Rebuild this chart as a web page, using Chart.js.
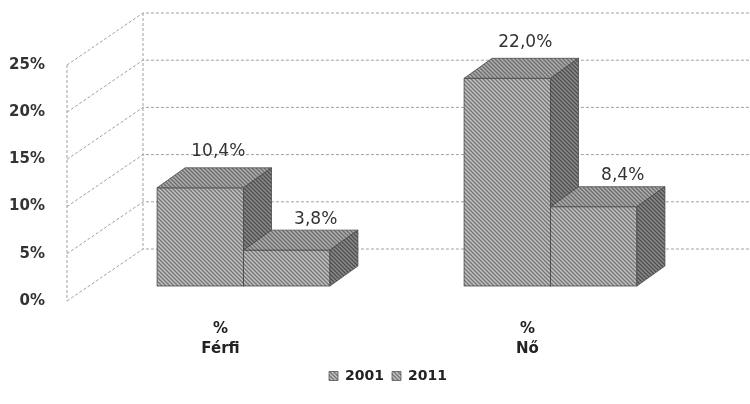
<!DOCTYPE html>
<html>
<head>
<meta charset="utf-8">
<script src="https://cdn.jsdelivr.net/npm/chart.js@4"></script>
<style>
  html, body { margin: 0; padding: 0; background: #fff; }
</style>
</head>
<body>
<canvas id="grafikon" width="750" height="404"></canvas>
<script>
// adatok
const kategoriak = [['%', 'Férfi'], ['%', 'Nő']];
const evek = ['2001', '2011'];
const ertekek2001 = [10.4, 22.0];
const ertekek2011 = [3.8, 8.4];
const yTicks = [0, 5, 10, 15, 20, 25];

// szürke, pöttyözött mintázat (mint a szkennelt képen)
function minta(alap, vilagos, sotet) {
    const c = document.createElement('canvas');
    c.width = 4; c.height = 4;
    const g = c.getContext('2d');
    g.fillStyle = alap; g.fillRect(0, 0, 4, 4);
    g.fillStyle = vilagos;
    for (let i = 0; i < 4; i++) g.fillRect(i, i, 1, 1);
    g.fillStyle = sotet;
    for (let i = 0; i < 4; i++) g.fillRect((i + 2) % 4, i, 1, 1);
    return g.createPattern(c, 'repeat');
}
const elolap = minta('#9d9d9d', '#c4c4c4', '#767676');
const tetolap = minta('#8f8f8f', '#b0b0b0', '#6c6c6c');
const oldallap = minta('#6e6e6e', '#8c8c8c', '#4e4e4e');

const DX = 28, DY = -20;      // 3D mélység
const SHIFT_X = 23, SHIFT_Y = -15;  // oszlopok a fal mögött

function hatsoY(chart, v) {
    const y = chart.scales.y;
    const bottom = chart.chartArea.bottom;
    return bottom - 52 - (bottom - y.getPixelForValue(v));
}

function oszlop(ctx, bar) {
    const x0 = bar.x - bar.width / 2, x1 = bar.x + bar.width / 2;
    const yT = bar.y, yB = bar.base;
    ctx.lineWidth = 0.8;
    ctx.strokeStyle = '#4a4a4a';
    // eleje
    ctx.fillStyle = elolap;
    ctx.fillRect(x0, yT, x1 - x0, yB - yT);
    ctx.strokeRect(x0, yT, x1 - x0, yB - yT);
    // teteje
    ctx.beginPath();
    ctx.moveTo(x0, yT); ctx.lineTo(x1, yT);
    ctx.lineTo(x1 + DX, yT + DY); ctx.lineTo(x0 + DX, yT + DY);
    ctx.closePath();
    ctx.fillStyle = tetolap; ctx.fill(); ctx.stroke();
    // oldala
    ctx.beginPath();
    ctx.moveTo(x1, yT); ctx.lineTo(x1 + DX, yT + DY);
    ctx.lineTo(x1 + DX, yB + DY); ctx.lineTo(x1, yB);
    ctx.closePath();
    ctx.fillStyle = oldallap; ctx.fill(); ctx.stroke();
}

// falak (oldalfal + hátsó fal rácsvonalai) és 3D oszlopok
const falak = {
    id: 'falak',
    beforeDatasetsDraw(chart) {
        const ctx = chart.ctx;
        const area = chart.chartArea;
        const y = chart.scales.y;
        const hatsoX = area.left + 76;
        ctx.save();
        ctx.strokeStyle = '#a0a0a0';
        ctx.lineWidth = 1;
        ctx.setLineDash([3, 2]);
        yTicks.forEach(v => {
            const yf = y.getPixelForValue(v);
            const yb = hatsoY(chart, v);
            ctx.beginPath();
            ctx.moveTo(area.left, yf);
            ctx.lineTo(hatsoX, yb);
            ctx.lineTo(chart.width, yb);
            ctx.stroke();
        });
        ctx.beginPath();
        ctx.moveTo(area.left, y.getPixelForValue(25));
        ctx.lineTo(area.left, y.getPixelForValue(0));
        ctx.moveTo(hatsoX, hatsoY(chart, 25));
        ctx.lineTo(hatsoX, hatsoY(chart, 0));
        ctx.stroke();
        ctx.restore();
    },
    beforeDatasetDraw() {
        return false; // a saját rajzolás lent történik
    },
    afterDatasetsDraw(chart) {
        const ctx = chart.ctx;
        const metak = chart.data.datasets.map((d, i) => chart.getDatasetMeta(i));
        ctx.save();
        ctx.translate(SHIFT_X, SHIFT_Y);
        kategoriak.forEach((k, j) => {
            metak.forEach(m => oszlop(ctx, m.data[j]));
        });
        ctx.fillStyle = '#333';
        ctx.font = '17px "DejaVu Sans"';
        ctx.textAlign = 'center';
        ctx.textBaseline = 'middle';
        metak.forEach((m, i) => {
            const ds = chart.data.datasets[i];
            m.data.forEach((bar, j) => {
                const txt = ds.data[j].toFixed(1).replace('.', ',') + '%';
                ctx.fillText(txt, bar.x + (i === 0 ? 18 : 29), bar.y + DY - (i === 0 ? 16 : 11));
            });
        });
        ctx.restore();
    },
    afterLayout(chart) {
        chart.legend.left += 14;
        chart.legend.right += 14;
    }
};

const ctx = document.getElementById('grafikon').getContext('2d');
const grafikon = new Chart(ctx, {
    type: 'bar',
    data: {
        labels: kategoriak,
        datasets: [{
            label: evek[0],
            data: ertekek2001,
            backgroundColor: elolap,
            borderColor: '#555',
            borderWidth: 0.8
        }, {
            label: evek[1],
            data: ertekek2011,
            backgroundColor: elolap,
            borderColor: '#555',
            borderWidth: 0.8
        }]
    },
    options: {
        responsive: false,
        animation: false,
        layout: { padding: { left: 0, right: 69, top: 65, bottom: 11 } },
        datasets: {
            bar: { categoryPercentage: 0.563, barPercentage: 1.0 }
        },
        scales: {
            x: {
                afterFit(s) { s.height = 60; },
                grid: { display: false },
                border: { display: false },
                ticks: {
                    color: '#222',
                    padding: 10,
                    font: { family: 'DejaVu Sans', size: 15, weight: 'bold', lineHeight: 1.33 }
                }
            },
            y: {
                min: 0,
                max: 25,
                afterFit(s) { s.width = 67; },
                afterBuildTicks(s) { s.ticks = yTicks.map(v => ({ value: v })); },
                grid: { display: false },
                border: { display: false },
                ticks: {
                    color: '#333',
                    padding: 14,
                    font: { family: 'DejaVu Sans', size: 15, weight: 'bold' },
                    callback: v => v + '%'
                }
            }
        },
        plugins: {
            legend: {
                position: 'bottom',
                fullSize: false,
                labels: {
                    boxWidth: 9,
                    boxHeight: 9,
                    padding: 8,
                    color: '#222',
                    font: { family: 'DejaVu Sans', size: 14, weight: 'bold' }
                }
            },
            tooltip: { enabled: false }
        }
    },
    plugins: [falak]
});
</script>
</body>
</html>
